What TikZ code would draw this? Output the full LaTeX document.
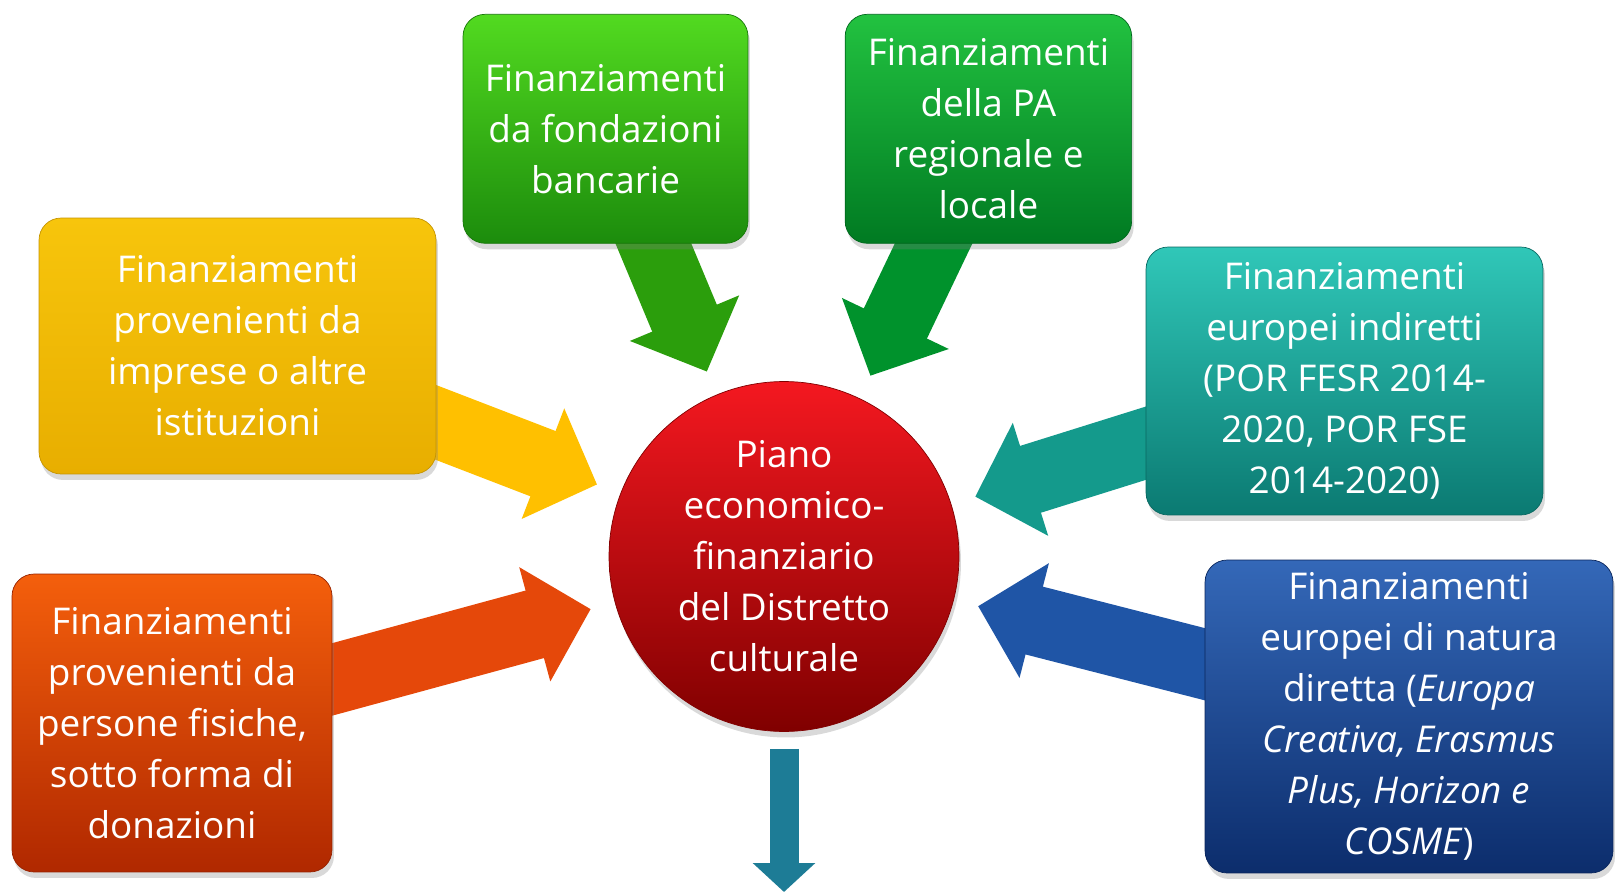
\documentclass[tikz,border=0pt]{standalone}
\usepackage{fontspec}
\setmainfont{Open Sans}
\usetikzlibrary{arrows.meta,backgrounds,shadows}

\definecolor{ylwtop}{HTML}{F7C50C}
\definecolor{ylwbot}{HTML}{E8AE00}
\definecolor{ylwarr}{HTML}{FFC000}
\definecolor{orgtop}{HTML}{F45F0C}
\definecolor{orgbot}{HTML}{B02800}
\definecolor{orgarr}{HTML}{E5480A}
\definecolor{gratop}{HTML}{52DA20}
\definecolor{grabot}{HTML}{1C8C0C}
\definecolor{graarr}{HTML}{2B9E0C}
\definecolor{grbtop}{HTML}{22C240}
\definecolor{grbbot}{HTML}{007A22}
\definecolor{grbarr}{HTML}{00922C}
\definecolor{tealtop}{HTML}{30C7B8}
\definecolor{tealbot}{HTML}{0B7A72}
\definecolor{tealarr}{HTML}{149A8C}
\definecolor{blutop}{HTML}{3468B8}
\definecolor{blubot}{HTML}{0C2D6C}
\definecolor{bluarr}{HTML}{1F55A6}
\definecolor{redtop}{HTML}{F41820}
\definecolor{redbot}{HTML}{800000}
\definecolor{downarr}{HTML}{1D7C96}

\begin{document}
\begin{tikzpicture}[x=0.02cm, y=-0.02cm,
		box/.style={rectangle, rounded corners=0.44cm, text=white, align=center, inner sep=0pt,
			font=\fontsize{21}{29}\selectfont,
			drop shadow={opacity=0.3, shadow xshift=0.04cm, shadow yshift=-0.12cm}},
		fat/.style={line width=1.4cm, -{Triangle[length=1.16cm, width=2.3cm]}, shorten >=0.5cm}]
		\useasboundingbox (0,0) rectangle (1616,892);

		\node[box, top color=ylwtop, bottom color=ylwbot, draw=ylwbot!85!black, minimum width=7.94cm, minimum height=5.12cm] (yb) at (237.5,346) {Finanziamenti\\provenienti da\\imprese o altre\\istituzioni};
		\node[box, top color=orgtop, bottom color=orgbot, draw=orgbot!85!black, minimum width=6.4cm, minimum height=5.96cm] (ob) at (172,723) {Finanziamenti\\provenienti da\\persone fisiche,\\sotto forma di\\donazioni};
		\node[box, top color=gratop, bottom color=grabot, draw=grabot!85!black, minimum width=5.7cm, minimum height=4.58cm] (ga) at (605.5,128.8) {Finanziamenti\\da fondazioni\\bancarie};
		\node[box, top color=grbtop, bottom color=grbbot, draw=grbbot!85!black, minimum width=5.73cm, minimum height=4.58cm] (gb) at (988.4,128.8) {Finanziamenti\\della PA\\regionale e\\locale};
		\node[box, top color=tealtop, bottom color=tealbot, draw=tealbot!85!black, minimum width=7.94cm, minimum height=5.36cm] (tb) at (1344.5,381) {Finanziamenti\\europei indiretti\\(POR FESR 2014-\\2020, POR FSE\\2014-2020)};
		\node[box, top color=blutop, bottom color=blubot, draw=blubot!85!black, minimum width=8.16cm, minimum height=6.26cm] (bb) at (1409,716.5) {Finanziamenti\\europei di natura\\diretta (\textit{Europa}\\\textit{Creativa, Erasmus}\\\textit{Plus, Horizon e}\\\textit{COSME})};

		\node[box, circle, minimum size=7cm, top color=redtop, bottom color=redbot, draw=redbot] (circ) at (784,556.5) {Piano\\economico-\\finanziario\\del Distretto\\culturale};
		\coordinate (dn) at (784,892);

		\begin{scope}[on background layer]
			\draw[fat, ylwarr] (yb.center) -- (circ);
			\draw[fat, orgarr] (ob.center) -- (circ);
			\draw[fat, graarr] (ga.center) -- (circ);
			\draw[fat, grbarr] (gb.center) -- (circ);
			\draw[fat, tealarr] (tb.center) -- (circ);
			\draw[fat, bluarr] (bb.center) -- (circ);
			\draw[downarr, line width=0.58cm, -{Triangle[length=0.58cm, width=1.22cm]}, shorten <=0.34cm] (circ) -- (dn);
		\end{scope}
	\end{tikzpicture}
\end{document}
